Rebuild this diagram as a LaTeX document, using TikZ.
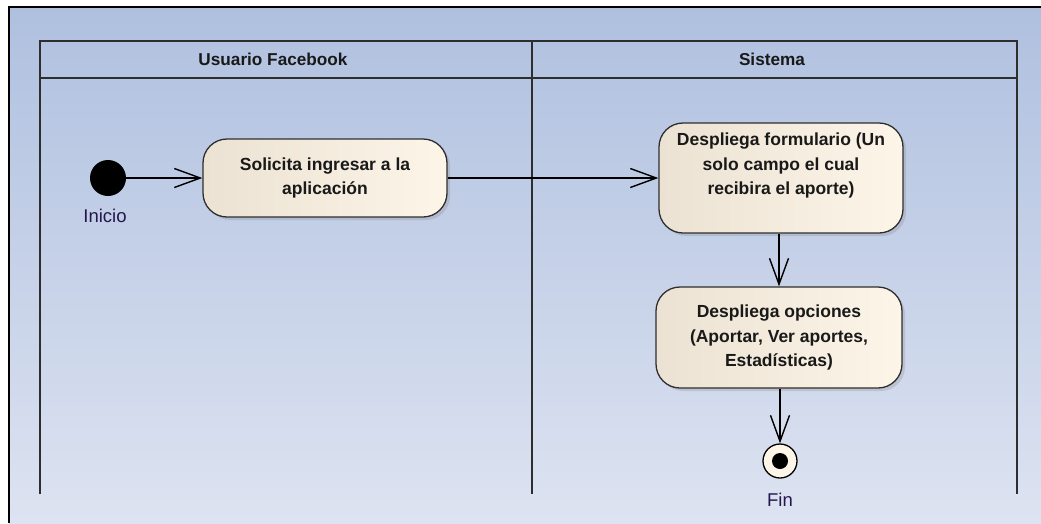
\documentclass[tikz,border=0pt]{standalone}
\usepackage{fontspec}
\setmainfont{Liberation Sans}
\usetikzlibrary{arrows.meta, shadows}

\definecolor{fondoarriba}{HTML}{AFC0DF}
\definecolor{fondoabajo}{HTML}{DDE3F1}
\definecolor{cremaizq}{HTML}{EBE2D3}
\definecolor{cremader}{HTML}{FDF5E8}
\definecolor{linea}{HTML}{2E2E2E}
\definecolor{etiqueta}{HTML}{24164E}

\tikzset{
  accion/.style={draw=linea, line width=1.3pt, rounded corners=24pt,
    left color=cremaizq, right color=cremader, align=center,
    font=\bfseries\fontsize{17.5}{24.5}\selectfont, text=black!90,
    drop shadow={shadow xshift=3pt, shadow yshift=-3pt, opacity=0.25}},
  carril/.style={draw=linea, line width=1.6pt},
  flecha/.style={draw=black, line width=1.4pt, -{Straight Barb[length=26pt, width=19pt, line width=1.4pt]}},
  titulo/.style={font=\bfseries\fontsize{17.2}{20}\selectfont, text=black!90},
  rotulo/.style={font=\fontsize{18.5}{20}\selectfont, text=etiqueta}
}

\begin{document}
\begin{tikzpicture}[x=1pt, y=-1pt]
    \useasboundingbox (0,0) rectangle (1041,523);

    % Fondo del diagrama
    \shade[top color=fondoarriba, bottom color=fondoabajo] (9,7) rectangle (1041,523);
    \draw[line width=1.5pt] (9,523) -- (9,7) -- (1041,7);

    % Carriles
    \draw[carril] (40,494) -- (40,41) -- (1017,41) -- (1017,494);
    \draw[carril] (40,78) -- (1017,78);
    \draw[carril] (532,41) -- (532,494);
    \node[titulo] (usuario) at (273,59) {Usuario Facebook};
    \node[titulo] (sistema) at (772,59) {Sistema};

    % Nodo inicial
    \node[circle, fill=black, minimum size=36pt, inner sep=0pt] (ini) at (108,178) {};
    \node[rotulo] (inicio) at (105,216) {Inicio};

    % Acciones
    \node[accion, minimum width=244pt, minimum height=78pt] (solicita) at (325,178)
        {Solicita ingresar a la\\aplicación};
    \node[accion, minimum width=244pt, minimum height=110pt] (formulario) at (781,178)
        {Despliega formulario (Un\\solo campo el cual\\recibira el aporte)\\[4pt]};
    \node[accion, minimum width=246pt, minimum height=101pt] (opciones) at (779,337.5)
        {Despliega opciones\\(Aportar, Ver aportes,\\Estadísticas)};

    % Nodo final
    \node[circle, draw=black, line width=1.3pt, fill=cremader, minimum size=34pt, inner sep=0pt] (fin) at (780,461) {};
    \fill[black] (fin.center) circle (8pt);
    \node[rotulo] (finlbl) at (780,500) {Fin};

    % Flujos
    \draw[flecha] (ini) -- (solicita);
    \draw[flecha] (solicita) -- (formulario);
    \draw[flecha] (formulario.south -| opciones.north) -- (opciones.north);
    \draw[flecha] (opciones.south -| fin.north) -- (fin.north);
\end{tikzpicture}
\end{document}
